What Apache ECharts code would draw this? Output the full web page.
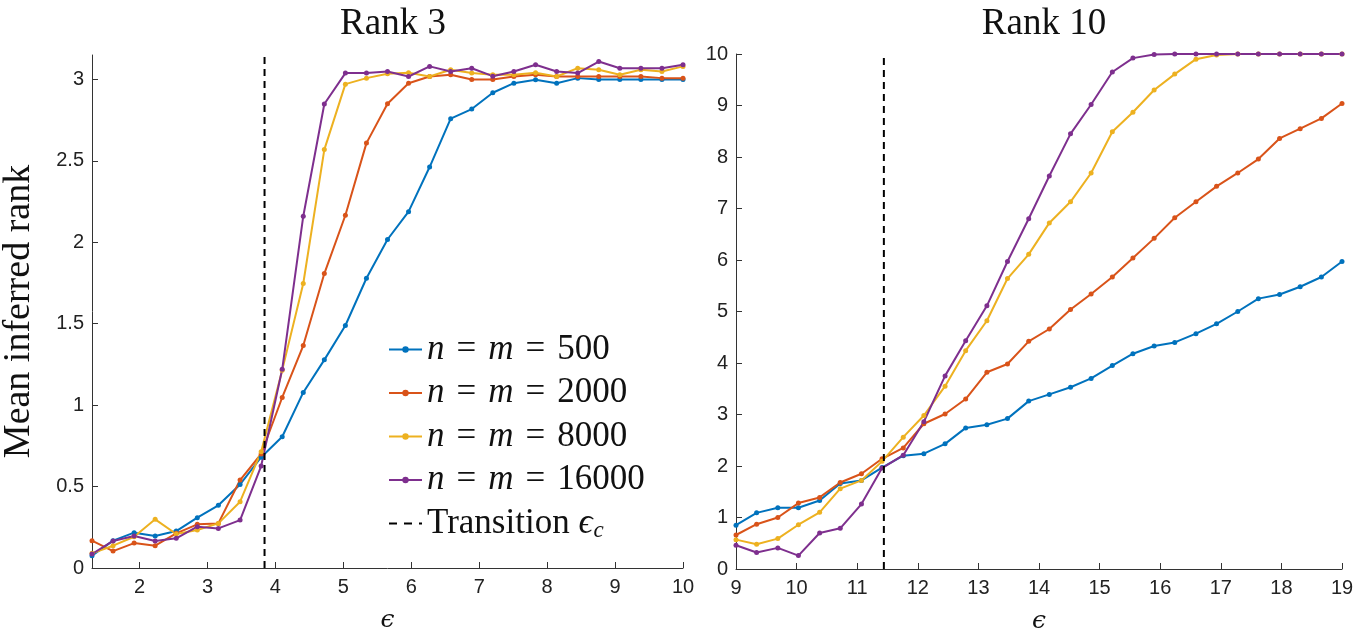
<!DOCTYPE html>
<html>
<head>
<meta charset="utf-8">
<script src="https://cdn.jsdelivr.net/npm/echarts@6/dist/echarts.min.js"></script>
<style>
html,body{margin:0;padding:0;background:#fff;}
#chart{width:1372px;height:633px;}
</style>
</head>
<body>
<div id="chart"></div>
<script>
// ---- Data ----
const titles = ['Rank 3', 'Rank 10'];
const seriesNames = ['n = m = 500', 'n = m = 2000', 'n = m = 8000', 'n = m = 16000'];
const transitionName = 'Transition';

const epsLeft = [1.30, 1.61, 1.92, 2.23, 2.54, 2.85, 3.16, 3.48, 3.79, 4.10, 4.41, 4.72, 5.03, 5.34, 5.65,
  5.96, 6.27, 6.58, 6.89, 7.20, 7.51, 7.83, 8.14, 8.45, 8.76, 9.07, 9.38, 9.69, 10.00];
const epsRight = [9.00, 9.34, 9.69, 10.03, 10.38, 10.72, 11.07, 11.41, 11.76, 12.10, 12.45, 12.79, 13.14, 13.48,
  13.83, 14.17, 14.52, 14.86, 15.21, 15.55, 15.90, 16.24, 16.59, 16.93, 17.28, 17.62, 17.97, 18.31, 18.66, 19.00];

const rank3_n500 = [0.075, 0.168, 0.217, 0.196, 0.227, 0.309, 0.385, 0.513, 0.68, 0.806, 1.078, 1.278, 1.489, 1.779,
  2.017, 2.188, 2.462, 2.759, 2.818, 2.918, 2.977, 2.998, 2.977, 3.008, 3.0, 3.0, 3.0, 3.0, 3.0];
const rank3_n2000 = [0.168, 0.104, 0.153, 0.137, 0.213, 0.268, 0.274, 0.54, 0.70, 1.047, 1.366, 1.808, 2.166, 2.609,
  2.851, 2.977, 3.018, 3.029, 3.0, 3.0, 3.018, 3.029, 3.018, 3.018, 3.018, 3.018, 3.018, 3.008, 3.008];
const rank3_n8000 = [0.09, 0.137, 0.192, 0.299, 0.209, 0.233, 0.274, 0.407, 0.714, 1.215, 1.747, 2.569, 2.971, 3.008,
  3.035, 3.041, 3.018, 3.059, 3.039, 3.029, 3.029, 3.041, 3.018, 3.069, 3.059, 3.029, 3.059, 3.049, 3.08];
const rank3_n16000 = [0.086, 0.166, 0.196, 0.166, 0.182, 0.254, 0.243, 0.294, 0.626, 1.22, 2.16, 2.849, 3.039, 3.039,
  3.049, 3.018, 3.08, 3.049, 3.069, 3.02, 3.049, 3.09, 3.049, 3.039, 3.11, 3.069, 3.069, 3.069, 3.09];

const rank10_n500 = [0.85, 1.09, 1.19, 1.19, 1.33, 1.66, 1.72, 1.97, 2.20, 2.24, 2.43, 2.74, 2.80, 2.92, 3.26,
  3.39, 3.53, 3.70, 3.95, 4.18, 4.33, 4.40, 4.57, 4.76, 5.00, 5.25, 5.33, 5.48, 5.67, 5.97];
const rank10_n2000 = [0.66, 0.87, 1.00, 1.28, 1.39, 1.68, 1.85, 2.14, 2.35, 2.82, 3.01, 3.30, 3.82, 3.98, 4.42,
  4.66, 5.04, 5.34, 5.67, 6.04, 6.42, 6.82, 7.13, 7.43, 7.69, 7.96, 8.36, 8.55, 8.75, 9.04];
const rank10_n8000 = [0.57, 0.48, 0.59, 0.86, 1.10, 1.56, 1.72, 2.09, 2.56, 2.98, 3.55, 4.24, 4.82, 5.64, 6.11,
  6.72, 7.13, 7.69, 8.49, 8.87, 9.30, 9.61, 9.90, 9.98, 10, 10, 10, 10, 10, 10];
const rank10_n16000 = [0.46, 0.32, 0.41, 0.26, 0.70, 0.79, 1.26, 1.96, 2.21, 2.86, 3.75, 4.43, 5.11, 5.97, 6.80,
  7.63, 8.45, 9.02, 9.65, 9.92, 9.99, 10, 10, 10, 10, 10, 10, 10, 10, 10];

const transitionLeft = 3.84;
const transitionRight = 11.44;
const yMaxLeft = 3.15;
const yMaxRight = 10;
const xTicksLeft = [2, 3, 4, 5, 6, 7, 8, 9, 10];
const yTicksLeft = [0, 0.5, 1, 1.5, 2, 2.5, 3];

const colors = ['#0072BD', '#D95319', '#EDB120', '#7E2F8E'];

// ---- Build ----
function pairs(xs, ys) { return xs.map((x, i) => [x, ys[i]]); }
const leftSets = [rank3_n500, rank3_n2000, rank3_n8000, rank3_n16000];
const rightSets = [rank10_n500, rank10_n2000, rank10_n8000, rank10_n16000];

const series = [];
seriesNames.forEach((name, k) => {
  [[0, epsLeft, leftSets[k]], [1, epsRight, rightSets[k]]].forEach(([g, xs, ys]) => {
    series.push({
      name: name, type: 'line', xAxisIndex: g, yAxisIndex: g,
      data: pairs(xs, ys),
      symbol: 'circle', symbolSize: 5, showSymbol: true,
      lineStyle: { width: 2, color: colors[k] },
      itemStyle: { color: colors[k] },
      emphasis: { disabled: true }, animation: false
    });
  });
});
[[0, transitionLeft, yMaxLeft], [1, transitionRight, yMaxRight]].forEach(([g, x, ym]) => {
  series.push({
    name: transitionName, type: 'line', xAxisIndex: g, yAxisIndex: g,
    data: [[x, 0], [x, ym]], symbol: 'none',
    lineStyle: { width: 2, color: '#000', type: [7, 5] },
    itemStyle: { color: '#000' },
    emphasis: { disabled: true }, animation: false, z: 5
  });
});

const axisColor = '#333';
const tickFont = { fontFamily: 'Liberation Sans', fontSize: 20, color: '#222' };
function xAxisBase(g, min, max) {
  return {
    type: 'value', gridIndex: g, min: min, max: max,
    axisLine: { onZero: false, lineStyle: { color: axisColor, width: 1 } },
    axisTick: { inside: true, length: 6, lineStyle: { color: axisColor } },
    axisLabel: Object.assign({ margin: 9 }, tickFont),
    splitLine: { show: false },
    name: 'ϵ', nameLocation: 'middle', nameGap: 40,
    nameTextStyle: { fontFamily: 'DejaVu Serif', fontStyle: 'italic', fontSize: 25, color: '#111' }
  };
}
function yAxisBase(g, min, max) {
  return {
    type: 'value', gridIndex: g, min: min, max: max,
    axisLine: { show: true, onZero: false, lineStyle: { color: axisColor, width: 1 } },
    axisTick: { show: true, inside: true, length: 6, lineStyle: { color: axisColor } },
    axisLabel: Object.assign({ margin: 8 }, tickFont),
    splitLine: { show: false }
  };
}

const xL = xAxisBase(0, 1.3, 10);
xL.axisLabel.customValues = xTicksLeft;
xL.axisTick.customValues = xTicksLeft;
const xR = xAxisBase(1, 9, 19);
xR.interval = 1;
const yL = yAxisBase(0, 0, yMaxLeft);
yL.axisLabel.customValues = yTicksLeft;
yL.axisTick.customValues = yTicksLeft;
yL.name = 'Mean inferred rank';
yL.nameLocation = 'middle';
yL.nameGap = 54;
yL.nameTextStyle = { fontFamily: 'Liberation Serif', fontSize: 38, color: '#111' };
const yR = yAxisBase(1, 0, yMaxRight);
yR.interval = 1;

const serif = 'Liberation Serif';
const option = {
  backgroundColor: '#fff',
  animation: false,
  title: [
    { text: titles[0], left: 388, top: 1, textAlign: 'center',
      textStyle: { fontFamily: serif, fontSize: 37, fontWeight: 'normal', color: '#111' } },
    { text: titles[1], left: 1039, top: 1, textAlign: 'center',
      textStyle: { fontFamily: serif, fontSize: 37, fontWeight: 'normal', color: '#111' } }
  ],
  grid: [
    { left: 92, top: 55, width: 591, height: 513, containLabel: false, outerBoundsMode: 'none' },
    { left: 736, top: 54, width: 606, height: 515, containLabel: false, outerBoundsMode: 'none' }
  ],
  xAxis: [xL, xR],
  yAxis: [yL, yR],
  legend: {
    orient: 'vertical', left: 383, top: 327,
    itemWidth: 33, itemHeight: 8, itemGap: 8.5,
    data: seriesNames.map(n => ({ name: n })).concat([{
      name: transitionName, itemStyle: { opacity: 0 },
      lineStyle: { type: [8, 7], width: 2, color: '#000' }
    }]),
    selectedMode: false,
    formatter: function (name) {
      if (name === transitionName) return '{r|Transition }{i|ϵ}{s|c}';
      const num = name.split('= ').pop();
      return '{i|n}{e|=}{i|m}{e|=}{r|' + num + '}';
    },
    textStyle: {
      fontFamily: serif, fontSize: 35, color: '#111', lineHeight: 34,
      rich: {
        i: { fontFamily: serif, fontStyle: 'italic', fontSize: 35, color: '#111' },
        r: { fontFamily: serif, fontSize: 35, color: '#111' },
        e: { fontFamily: serif, fontSize: 35, color: '#111', padding: [0, 12, 0, 12] },
        s: { fontFamily: serif, fontStyle: 'italic', fontSize: 23, color: '#111', padding: [14, 0, 0, 1] }
      }
    }
  },
  series: series
};

const chart = echarts.init(document.getElementById('chart'), null, { renderer: 'canvas' });
chart.setOption(option);
</script>
</body>
</html>
